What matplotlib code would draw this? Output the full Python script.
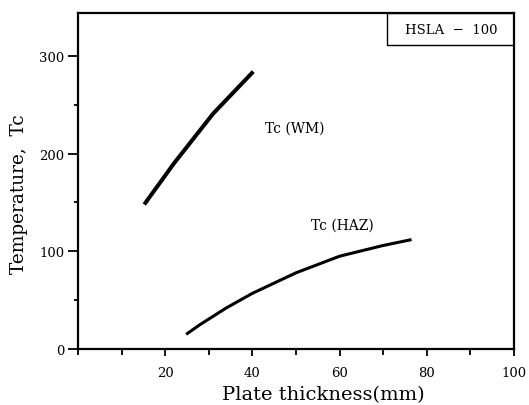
import matplotlib
matplotlib.use("Agg")
import matplotlib.pyplot as plt
from matplotlib.patches import Rectangle
from matplotlib.ticker import MultipleLocator

# values
wm_thick = [15.2, 22, 31, 40.2]
wm_temp = [148, 190, 241, 284]

haz_thick = [24.8, 28, 34, 40, 50, 60, 70, 76.5]
haz_temp = [15, 25, 42, 57, 78, 95, 106, 112]

xticks = [20, 40, 60, 80, 100]
yticks = [0, 100, 200, 300]

plt.rcParams['font.family'] = ['DejaVu Serif']

fig = plt.figure(figsize=(5.29, 4.06), dpi=100)
ax = fig.add_axes([78 / 529, 56 / 406, 436 / 529, 336 / 406])

ax.plot(wm_thick, wm_temp, color='black', linewidth=2.9, solid_capstyle='butt')
ax.plot(haz_thick, haz_temp, color='black', linewidth=2.2, solid_capstyle='butt')

ax.text(43, 227, 'Tc (WM)', fontsize=10, va='center', ha='left')
ax.text(53.5, 127, 'Tc (HAZ)', fontsize=10, va='center', ha='left')

# label box in the upper right corner
ax.add_patch(Rectangle((0.709, 0.905), 0.291, 0.095, transform=ax.transAxes,
                       facecolor='white', edgecolor='black', linewidth=1.0))
ax.text(0.855, 0.952, 'HSLA  \u2212  100', transform=ax.transAxes,
        fontsize=9.5, ha='center', va='center')

ax.set_xlim(0, 100)
ax.set_ylim(0, 344)
ax.set_xticks(xticks)
ax.set_yticks(yticks)
ax.xaxis.set_minor_locator(MultipleLocator(10))
ax.yaxis.set_minor_locator(MultipleLocator(50))
ax.tick_params(axis='x', which='major', direction='out', length=5, width=1.3,
               labelsize=9.5, pad=7)
ax.tick_params(axis='x', which='minor', direction='out', length=4, width=1.3)
ax.tick_params(axis='y', which='major', direction='out', length=7, width=1.3,
               labelsize=9.5, pad=3)
ax.tick_params(axis='y', which='minor', direction='out', length=3, width=1.3)

for s in ax.spines.values():
    s.set_linewidth(1.6)

ax.set_xlabel('Plate thickness(mm)', fontsize=14)
ax.set_ylabel('Temperature,  Tc', fontsize=13.3)
ax.xaxis.set_label_coords(0.562, -0.108)
ax.yaxis.set_label_coords(-0.115, 0.464)

fig.savefig('out.png', dpi=100)
